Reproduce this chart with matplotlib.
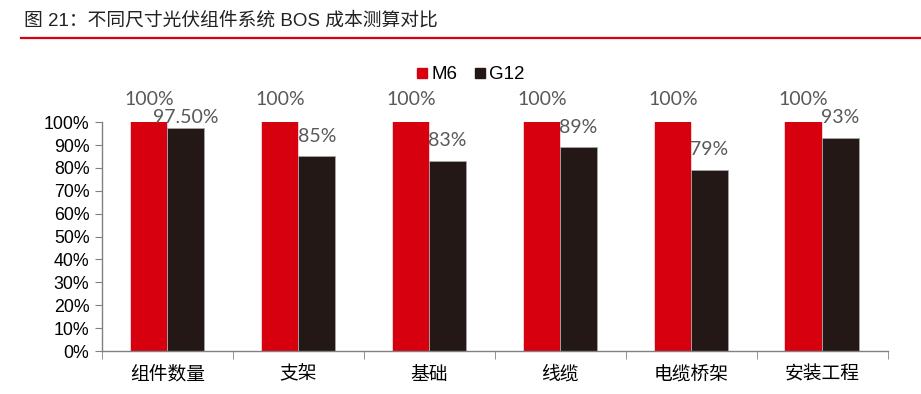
import matplotlib
matplotlib.use("Agg")
import matplotlib.pyplot as plt
from matplotlib.lines import Line2D
import numpy as np

plt.rcParams['font.family'] = ['Liberation Sans', 'Noto Sans CJK SC', 'DejaVu Sans']

categories = ["组件数量", "支架", "基础", "线缆", "电缆桥架", "安装工程"]
m6 = [1.00, 1.00, 1.00, 1.00, 1.00, 1.00]
g12 = [0.975, 0.85, 0.83, 0.89, 0.79, 0.93]
m6_labels = ["100%", "100%", "100%", "100%", "100%", "100%"]
g12_labels = ["97.50%", "85%", "83%", "89%", "79%", "93%"]
yticks = np.arange(0, 1.01, 0.1)

RED = "#D7000F"
BLACK = "#231815"
LABEL_GREY = "#595959"
AXIS_GREY = "#808080"

fig = plt.figure(figsize=(9.21, 3.94), dpi=100)
ax = fig.add_axes([0.1107, 0.109, 0.853, 0.581])

x = np.arange(len(categories))
w = 0.28
ax.bar(x - w / 2, m6, width=w, color=RED, edgecolor=RED, linewidth=0.3)
ax.bar(x + w / 2, g12, width=w, color=BLACK, edgecolor="#A6A6A6", linewidth=0.6)

for xi, v, t in zip(x, m6, m6_labels):
    ax.annotate(t, (xi - w / 2, v), xytext=(0, 10), textcoords="offset points",
                ha="center", va="bottom", color=LABEL_GREY, fontsize=14,
                family=["Lato", "DejaVu Sans"], annotation_clip=False)
for xi, v, t in zip(x, g12, g12_labels):
    # label squeezed down under the M6 label when the bars are nearly level
    dy = 1.5 if v > 0.95 else 8.5
    ax.annotate(t, (xi + w / 2, v), xytext=(0, dy), textcoords="offset points",
                ha="center", va="bottom", color=LABEL_GREY, fontsize=14,
                family=["Lato", "DejaVu Sans"], annotation_clip=False)

ax.set_xlim(-0.5, len(categories) - 0.5)
ax.set_ylim(0, 1.0)
ax.set_yticks(yticks)
ax.set_yticklabels([f"{int(round(v * 100))}%" for v in yticks], fontsize=12.8)

ax.set_xticks(x)
ax.set_xticklabels(categories, fontsize=13.5, family=["Noto Sans CJK SC", "DejaVu Sans"])
ax.tick_params(axis="x", length=0, pad=9)
# category boundary ticks
ax.set_xticks(np.arange(-0.5, len(categories)), minor=True)
ax.tick_params(axis="x", which="minor", length=6, color=AXIS_GREY, direction="out")
ax.tick_params(axis="y", length=5, color=AXIS_GREY, direction="out", pad=4)

for s in ["top", "right"]:
    ax.spines[s].set_visible(False)
for s in ["left", "bottom"]:
    ax.spines[s].set_color(AXIS_GREY)
    ax.spines[s].set_linewidth(1.0)

handles = [Line2D([], [], marker="s", linestyle="none", color=RED, markersize=7, label="M6"),
           Line2D([], [], marker="s", linestyle="none", color=BLACK, markersize=7, label="G12")]
fig.legend(handles=handles, loc="center", bbox_to_anchor=(0.51, 0.81), ncol=2,
           frameon=False, fontsize=13.5, handletextpad=0.1, columnspacing=0.8,
           handlelength=0.8)

fig.text(0.026, 0.948, "图 21：不同尺寸光伏组件系统 BOS 成本测算对比", fontsize=13.5,
         color="#222222", va="center", ha="left",
         family=["Liberation Sans", "Noto Sans CJK SC"])
fig.add_artist(Line2D([0.023, 1.0], [0.903, 0.903], color=RED, linewidth=1.6,
                      transform=fig.transFigure))

fig.savefig("out.png", dpi=100)
